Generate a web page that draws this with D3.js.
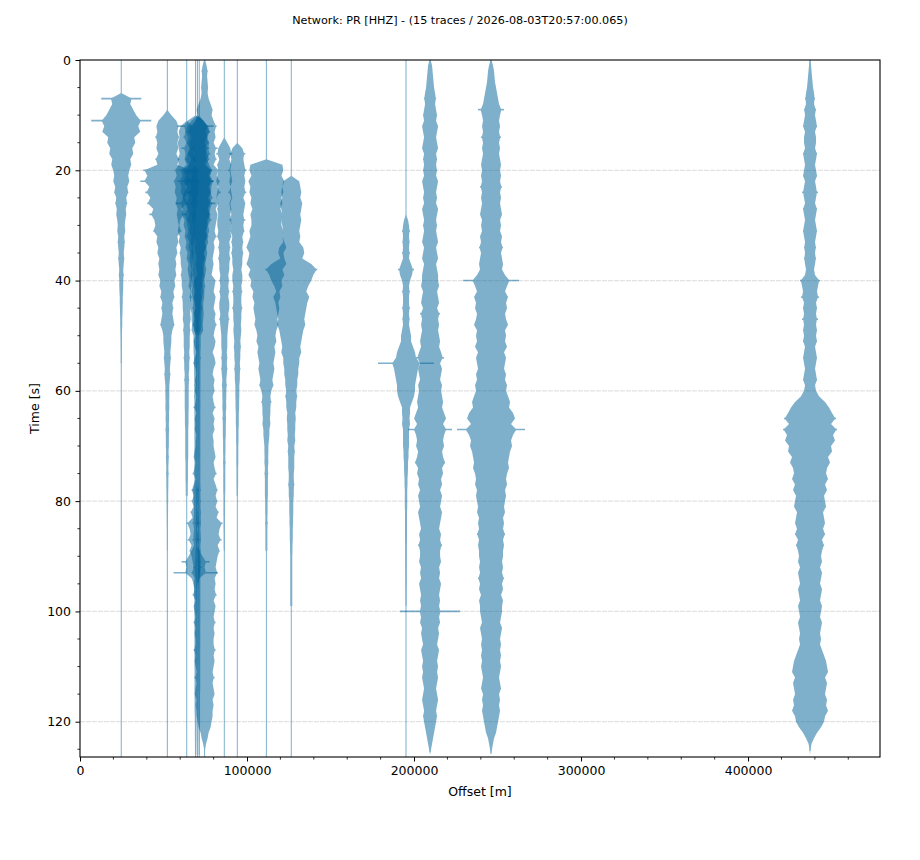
<!DOCTYPE html>
<html>
<head>
<meta charset="utf-8">
<script src="https://cdn.jsdelivr.net/npm/d3@7"></script>
<style>
  html, body { margin: 0; padding: 0; background: #fff; }
  svg { display: block; font-family: "DejaVu Sans", sans-serif; }
</style>
</head>
<body>
<svg id="chart" width="920" height="860"></svg>
<script>
// ---------------- data ----------------
const titleText = "Network: PR [HHZ] - (15 traces / 2026-08-03T20:57:00.065)";
const xTicks = [0, 100000, 200000, 300000, 400000];
const yTicks = [0, 20, 40, 60, 80, 100, 120];
const xDomain = [0, 479000];
const yDomain = [0, 126.4];
const sampleInterval = 1; // s between envelope samples

// trace offsets [m]
const offsets = [24700, 52300, 63900, 69200, 70300, 71400, 74600, 86400, 94200,
                 111600, 126500, 195200, 209600, 246100, 437100];
// end time of each trace [s]
const traceEnd = [130, 130, 130, 130, 130, 130, 130, 130, 130, 130, 130, 130, 125.5, 125.8, 125.3];

// amplitude envelopes (normalised units), one sample per second from t = 0
const trace01 = [0,0,0,0,0,0,0,20,9,12,
  15,30,17,19,13,14,11,12,9,10,
  8,7,8,6,7,5,6,4.5,5,4,
  3.5,4,3,3.5,3,2.5,3,2.5,2,2.5,
  2,2,1.8,1.5,1.5,1.3,1.2,1,1,0.8,
  0.7,0.6,0.6,0.5,0.5,0.5];
const trace02 = [0,0,0,0,0,0,0,0,0,0,
  4,9,11,10,12,10,11,9,12,10,
  24,20,27,18,22,17,20,14,18,13,
  12,14,10,11,9,10,8,9,8,9,
  7,8,6,7,5,6,5,6,7,5,
  4,4,3.5,3,3.5,3,2.5,3,2.5,2,
  2,2,1.8,2,1.6,1.8,1.5,1.8,1.5,1.5,
  1.5,1.2,1.4,1.2,1,1.2,1,1,0.9,0.8,
  0.8,0.7,0.7,0.6,0.6,0.5,0.5,0.5,0.5,0.4];
const trace03 = [0,0,0,0,0,0,0,0,0,0,
  0,0,6,8,7,9,8,7,9,8,
  12,10,13,11,12,10,11,9,10,9,
  8,9,7,8,6,7,6,6,5,6,
  5,5,4,5,4,4,3.5,4,3,3.5,
  3,3,3,2.5,3,2.5,2.5,2,2.5,2,
  2,2,2,2,1.8,1.8,1.8,1.5,1.5,1.5,
  1.5,1.5,1.5,1.2,1.2,1.2,1.2,1,1,1];
const trace04 = [0,0,0,0,0,0,0,0,0,0,
  0,8,18,10,12,9,14,10,11,9,
  16,13,18,14,15,12,20,13,14,11,
  12,10,11,9,10,8,9,7,8,7,
  6,7,5,6,5,5,4,4,3.5,4,
  2,2,2,2,1.5,2,1.5,1.5,1.2,1.5,
  1.2,1.5,1.2,1.2,1.2,1.1,1.2,1.1,1.2,1.1,
  1.1,1.2,1.1,1.1,1.2,1.1,1.1,1.2,3,2,
  2,1.5,1.5,2,3,1.5,2,3,1.5,4,
  7,14,9,22,4,2,1.5,1.5,1.2,1.2,
  1.2,1.1,1.2,1.1,1.2,1.1,1.1,1.2,1.1,1.1,
  1.1,1,1.1,1,1.1,1,1,1,1,0.8,
  0.8,0.7,0.7,0.7,0.6,0.6,0.6];
const trace05 = [0,0,0,0,0,0,0,0,0,0,
  0,6,10,12,9,11,8,10,12,9,
  14,12,16,11,13,15,12,10,13,11,
  10,9,11,8,9,7,8,7,6,7,
  6,5,6,5,4,5,4,4,4,3.5,
  1.5,1.2,1.5,1.2,1.2,1.2,1.1,1.2,1.1,1.1,
  1.1,1.1,1,1.1,1,1,1,1,1,1,
  1,1,1,0.8,0.8,0.8,0.8,1,1.2,1.2,
  1.2,1.1,1.2,1.5,2,1.2,1.5,2,1.2,2,
  2,2.5,4,2.5,2,1.2,1.1,1.1,1.1,1,
  1,1,1,1,1,1,1,1,1,1,
  0.8,0.8,0.8,0.8,0.8,0.8,0.8,0.8,0.8,0.8,
  0.7,0.7,0.6,0.6,0.6,0.5,0.5];
const trace06 = [0,0,0,0,0,0,0,0,0,0,
  0,4,9,11,8,10,9,11,8,10,
  13,11,14,12,12,10,13,11,10,12,
  9,10,8,9,7,8,7,6,7,6,
  5,6,5,5,4,4,4.5,4,3.5,4,
  1.5,1.5,1.5,1.2,1.5,1.2,1.2,1.2,1.2,1.2,
  1.2,1.1,1.2,1.2,1.1,1.2,1.1,1.2,1.2,1.1,
  1.1,1.2,1.1,1.1,1.2,1.1,1.1,1.2,1.5,1.2,
  1.5,1.2,1.8,1.5,1.8,1.2,1.5,1.8,1.2,1.5,
  1.2,1.5,1.2,1.2,1.1,1.2,1.1,1.1,1.2,1.1,
  1.1,1.1,1.1,1,1.1,1,1.1,1,1,1,
  1,1,1,1,1,0.8,0.8,0.8,0.8,0.8,
  0.8,0.7,0.7,0.7,0.6,0.6,0.6];
const trace07 = [0.5,2,3,2.5,3,3.5,3,4,6,8,
  7,9,12,10,11,9,13,10,12,9,
  14,12,15,13,16,12,14,11,13,12,
  11,10,12,9,10,9,8,9,8,7,
  11,10,9,11,10,9,11,10,12,10,
  9,11,10,8,10,11,9,8,10,9,
  10,8,9,11,8,10,9,10,8,9,
  9,10,11,9,10,12,9,11,13,11,
  13,11,14,12,18,15,14,17,13,15,
  13,12,11,13,10,11,10,12,9,11,
  10,9,11,9,10,9,9,11,9,10,
  9,8,10,8,9,10,8,9,8,8,
  7,6,4,3,1.5,0.5,0];
const trace08 = [0,0,0,0,0,0,0,0,0,0,
  0,0,0,0,0,3,6,8,5,7,
  6,7,8,6,7,8,6,7,6,7,
  7,6,7,5,6,5,6,5,5,4,
  5,4,5,4,5,5,4,5,4,3.5,
  3,3,3,2.5,3,2.5,3,2.5,2,2.5,
  2,2,1.8,2,1.5,1.8,1.5,1.5,1.5,1.2,
  1.2,1.2,1,1.2,1,1,1,1,1,0.8,
  0.8,0.8,0.8,0.7,0.7,0.7,0.6,0.6,0.6,0.5];
const trace09 = [0,0,0,0,0,0,0,0,0,0,
  0,0,0,0,0,0,5,8,6,7,
  9,7,8,7,9,6,8,7,6,8,
  6,7,5,6,5,6,5,5,4,5,
  5,4,5,4,4,5,4,4,3.5,4,
  3.5,3,3.5,3,3,2.5,3,2.5,2.5,2,
  2,2,1.8,1.8,1.5,1.5,1.5,1.2,1.2,1.2,
  1,1,1,1,0.8,0.8,0.8,0.8,0.7,0.7];
const trace10 = [0,0,0,0,0,0,0,0,0,0,
  0,0,0,0,0,0,0,0,0,16,
  17,15,18,16,17,15,16,14,16,15,
  15,17,16,18,20,17,18,20,16,18,
  15,16,13,14,12,13,12,11,12,10,
  9,10,8,9,8,7,8,7,6,7,
  5,4,5,4,4,3.5,4,3,3,2.5,
  2,2,1.8,2,1.5,1.8,1.5,1.5,1.5,1.5,
  1.2,1.2,1.2,1,1.2,1,1,1,1,1];
const trace11 = [0,0,0,0,0,0,0,0,0,0,
  0,0,0,0,0,0,0,0,0,0,
  0,0,8,9,10,9,11,10,9,10,
  9,8,9,8,12,13,11,20,26,22,
  20,17,15,18,16,15,14,13,14,12,
  11,10,9,10,8,8,7,7,6,6,
  5,6,5,5,4,4.5,4,4,3.5,4,
  3,3.5,3,3,3,2.5,2.5,3,2.5,2.5,
  2,2,2,1.8,1.8,1.5,1.5,1.5,1.2,1.2,
  1,1,1,1,1,1,1,1,1,1];
const trace12 = [0,0,0,0,0,0,0,0,0,0,
  0,0,0,0,0,0,0,0,0,0,
  0,0,0,0,0,0,0,0,0,2,
  3,4,3,3.5,3,4,3,5,8,6,
  4,3,4,3,3,4,3,3.5,3,4,
  5,5,7,9,10,28,12,11,10,9,
  9,8,6,4,4,3.5,4,3,3,3,
  3,2.5,2.5,2,2,1.8,1.5,1.5,1.2,1.2,
  1.2,1.2,1,1,1,1,1,1,0.8,0.8,
  0.8,0.8,0.8,0.7,0.7,0.7,0.6,0.6,0.6,0.5];
const trace13 = [0.5,2,2.5,3,3.5,4,5,6,5,6,
  7,6,8,7,6,7,8,6,7,6,
  7,6,8,7,6,7,6,8,7,6,
  7,6,7,8,6,7,8,6,7,8,
  8,9,7,8,9,7,10,8,9,8,
  9,10,9,11,14,10,12,11,10,12,
  11,12,13,12,14,16,13,22,14,13,
  14,12,13,15,12,13,11,12,10,12,
  11,10,12,11,10,9,11,10,12,10,
  10,11,9,10,9,11,10,9,10,9,
  30,9,10,8,9,8,7,9,8,7,
  8,7,8,7,6,7,8,7,6,7,
  6,5,4,3,2,1,0];
const trace14 = [0.5,2,3,3.5,4,5,6,7,8,13,
  9,8,9,8,10,8,9,8,9,10,
  9,10,9,11,9,10,9,10,11,9,
  10,9,11,10,12,10,11,12,11,14,
  28,16,14,17,15,16,14,15,17,14,
  15,14,16,13,15,14,13,15,14,16,
  15,17,19,18,22,24,20,34,22,20,
  21,19,18,17,18,16,15,16,14,15,
  14,13,14,12,13,12,14,12,13,12,
  12,11,12,11,13,11,12,10,12,11,
  11,10,9,11,10,9,10,9,10,9,
  10,9,8,9,10,8,9,8,9,8,
  7,6,5,3,2,1,0];
const trace15 = [0.5,1,1.5,2,2.5,3,4,5,4,6,
  5,6,7,5,6,6,5,7,6,5,
  6,7,5,6,8,6,5,7,6,5,
  6,7,6,5,6,5,6,5,4,5,
  10,8,7,9,6,7,6,8,6,7,
  6,7,5,6,7,6,5,6,7,5,
  6,9,15,19,22,26,21,27,23,25,
  21,22,18,20,17,16,18,15,17,14,
  15,16,13,14,15,13,15,12,14,12,
  11,12,10,12,11,10,12,11,10,12,
  11,10,12,11,10,11,10,12,14,16,
  17,18,15,17,16,15,17,16,18,15,
  14,11,7,4,1.5,0.5,0];

const traces = [trace01, trace02, trace03, trace04, trace05, trace06, trace07, trace08,
                trace09, trace10, trace11, trace12, trace13, trace14, trace15];

// ---------------- rendering ----------------
const ampScale = 598.8;   // metres of offset per amplitude unit
const traceColor = "#016399";
const margin = { left: 80, right: 40, top: 60, bottom: 103 };
const W = 920, H = 860;
const svg = d3.select("#chart");

const x = d3.scaleLinear().domain(xDomain).range([margin.left, W - margin.right]);
const y = d3.scaleLinear().domain(yDomain).range([margin.top, H - margin.bottom]);

// title
svg.append("text")
  .attr("x", W / 2).attr("y", 24)
  .attr("text-anchor", "middle")
  .attr("font-size", 11.2)
  .text(titleText);

// grid lines (major y ticks)
svg.append("g").selectAll("line").data(yTicks.filter(d => d > 0)).join("line")
  .attr("x1", x.range()[0]).attr("x2", x.range()[1])
  .attr("y1", d => y(d)).attr("y2", d => y(d))
  .attr("stroke", "#e2e2e2").attr("stroke-width", 1.2)
  .attr("stroke-dasharray", "5,1");

// clip
svg.append("clipPath").attr("id", "plotclip").append("rect")
  .attr("x", x.range()[0]).attr("y", y.range()[0])
  .attr("width", x.range()[1] - x.range()[0])
  .attr("height", y.range()[1] - y.range()[0]);

const plot = svg.append("g").attr("clip-path", "url(#plotclip)");

traces.forEach((amps, k) => {
  const off = offsets[k];
  const g = plot.append("g").attr("opacity", 0.5);
  // zero line of the trace
  g.append("line")
    .attr("x1", x(off)).attr("x2", x(off))
    .attr("y1", y(0)).attr("y2", y(traceEnd[k]))
    .attr("stroke", traceColor).attr("stroke-width", 1);
  // body of the wiggle; isolated spikes are drawn as thin strokes instead
  const body = amps.map((a, i) =>
    Math.min(a, 1.15 * Math.max(amps[i - 1] ?? 0, amps[i + 1] ?? 0)));
  const area = d3.area()
    .y((d, i) => y(i * sampleInterval))
    .x0(d => x(off - d * ampScale))
    .x1(d => x(off + d * ampScale))
    .curve(d3.curveLinear);
  g.append("path").datum(body)
    .attr("d", area)
    .attr("fill", traceColor);
  g.selectAll("line.peak")
    .data(amps.map((a, i) => ({ a, i, b: body[i] })).filter(d => d.a > d.b))
    .join("line").attr("class", "peak")
    .attr("y1", d => y(d.i * sampleInterval)).attr("y2", d => y(d.i * sampleInterval))
    .attr("x1", d => x(off - d.a * ampScale))
    .attr("x2", d => x(off + d.a * ampScale))
    .attr("stroke", traceColor).attr("stroke-width", 1.6);
});

// axes
const xAxis = d3.axisBottom(x).tickValues(xTicks).tickFormat(d3.format("d"))
  .tickSize(4.5).tickPadding(4.5);
const yAxis = d3.axisLeft(y).tickValues(yTicks).tickFormat(d3.format("d"))
  .tickSize(4.5).tickPadding(4.5);
const xMinor = d3.range(0, xDomain[1] + 1, 20000).filter(v => !xTicks.includes(v));
const yMinor = d3.range(0, yDomain[1], 5).filter(v => !yTicks.includes(v));

const gx = svg.append("g").attr("transform", `translate(0,${y.range()[1]})`).call(xAxis);
const gy = svg.append("g").attr("transform", `translate(${x.range()[0]},0)`).call(yAxis);
[gx, gy].forEach(g => {
  g.select(".domain").remove();
  g.selectAll("text").attr("font-size", 12.5).attr("font-family", "DejaVu Sans").attr("fill", "#000");
  g.selectAll("line").attr("stroke", "#000").attr("stroke-width", 1);
});
svg.append("g").selectAll("line").data(xMinor).join("line")
  .attr("x1", d => x(d)).attr("x2", d => x(d))
  .attr("y1", y.range()[1]).attr("y2", y.range()[1] + 2.6)
  .attr("stroke", "#000").attr("stroke-width", 0.8);
svg.append("g").selectAll("line").data(yMinor).join("line")
  .attr("y1", d => y(d)).attr("y2", d => y(d))
  .attr("x1", x.range()[0]).attr("x2", x.range()[0] - 2.6)
  .attr("stroke", "#000").attr("stroke-width", 0.8);

// frame
svg.append("rect")
  .attr("x", x.range()[0]).attr("y", y.range()[0])
  .attr("width", x.range()[1] - x.range()[0])
  .attr("height", y.range()[1] - y.range()[0])
  .attr("fill", "none").attr("stroke", "#000").attr("stroke-width", 1.1);

// axis labels
svg.append("text")
  .attr("x", (x.range()[0] + x.range()[1]) / 2).attr("y", 796)
  .attr("text-anchor", "middle").attr("font-size", 12.5)
  .text("Offset [m]");
svg.append("text")
  .attr("transform", `translate(39,${(y.range()[0] + y.range()[1]) / 2}) rotate(-90)`)
  .attr("text-anchor", "middle").attr("font-size", 12.5)
  .text("Time [s]");
</script>
</body>
</html>
